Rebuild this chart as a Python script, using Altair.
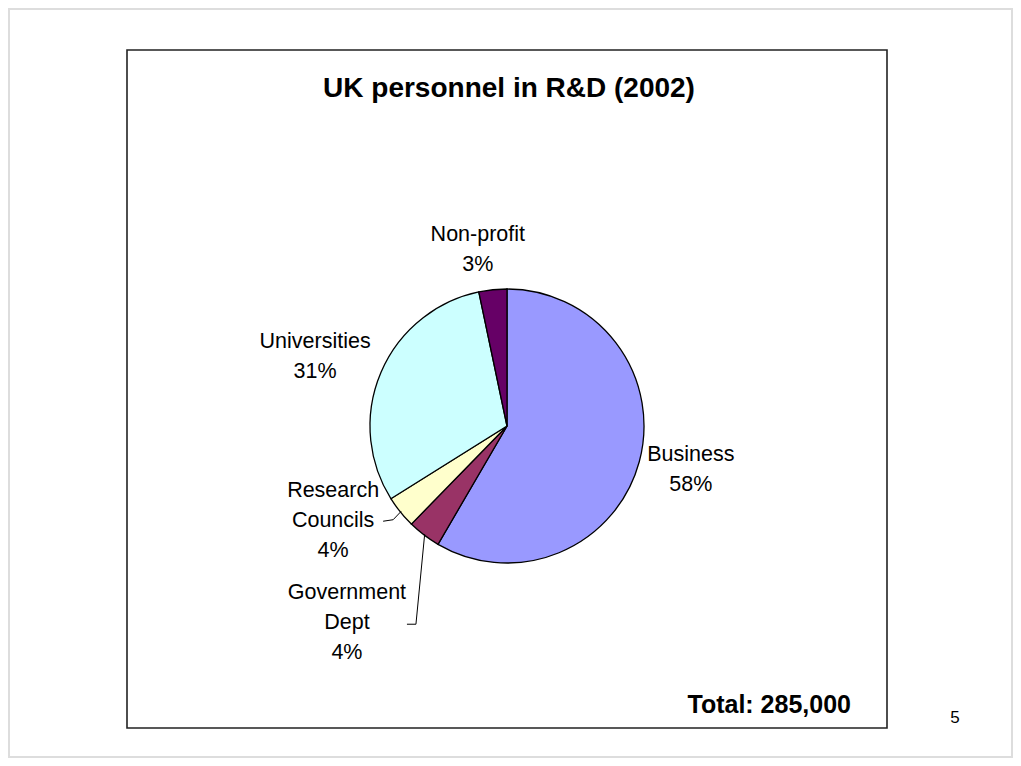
import math
import altair as alt
import pandas as pd

# ---------------- data ----------------
categories = ["Business", "Government Dept", "Research Councils", "Universities", "Non-profit"]
shares = [58.4, 3.9, 3.8, 30.6, 3.3]          # % of UK R&D personnel
label_lines = [["Business"], ["Government", "Dept"], ["Research", "Councils"],
               ["Universities"], ["Non-profit"]]
colors = ["#9999FF", "#993366", "#FFFFCC", "#CCFFFF", "#660066"]
title_text = "UK personnel in R&D (2002)"
total_text = "Total: 285,000"
page_number = "5"

# ---------------- layout ----------------
W, H = 1005, 750          # whole chart (page minus 8px margins)
OX, OY = 8, 8             # page margin
CX, CY, R = 507, 426, 137 # pie centre / radius in page pixels
FONT = "Liberation Sans"
LINE_H = 30

# label placement: (distance from pie centre, angle nudge in degrees)
label_polar = {
    "Business": (189, -1.7),
    "Government Dept": (254, 1.8),
    "Research Councils": (198, 10.3),
    "Universities": (204, -3.2),
    "Non-profit": (178, -3.5),
}
# leader line elbow points relative to the label centre
leader_offsets = {
    "Research Councils": [(50, 0.5), (60, -1)],
    "Government Dept": [(60, 1), (69, 1)],
}

total = sum(shares)
rows, label_rows, leader_rows = [], [], []
acc = 0.0
for i, (cat, s) in enumerate(zip(categories, shares)):
    a0 = acc / total * 360
    acc += s
    a1 = acc / total * 360
    mid = (a0 + a1) / 2
    rows.append({"category": cat, "share": s, "idx": i})
    d, nudge = label_polar[cat]
    ang = math.radians(mid + nudge)
    lx = CX + d * math.sin(ang)
    ly = CY - d * math.cos(ang)
    lines = label_lines[i] + [f"{round(s)}%"]
    # anchor is the first line; shift so the block is centred on (lx, ly)
    label_rows.append({"category": cat, "px": lx,
                       "py": ly - (len(lines) - 1) * LINE_H / 2,
                       "text": lines})
    if cat in leader_offsets:
        pts = [(lx + dx, ly + dy) for dx, dy in leader_offsets[cat]]
        m = math.radians(mid)
        pts.append((CX + (R - 1) * math.sin(m), CY - (R - 1) * math.cos(m)))
        for k, (px, py) in enumerate(pts):
            leader_rows.append({"category": cat, "seq": k, "px": px, "py": py})

pie_df = pd.DataFrame(rows)
label_df = pd.DataFrame(label_rows)
leader_df = pd.DataFrame(leader_rows)

xs = alt.Scale(domain=[OX, OX + W], range=[0, W])
ys = alt.Scale(domain=[OY, OY + H], range=[0, H])

outer = alt.Chart(pd.DataFrame({"a": [0]})).mark_rect(
    fillOpacity=0, stroke="#DDDDDD", strokeWidth=2
).encode(x=alt.value(1), x2=alt.value(W - 1), y=alt.value(1), y2=alt.value(H - 1))

frame = alt.Chart(pd.DataFrame({"a": [0]})).mark_rect(
    fillOpacity=0, stroke="#222222", strokeWidth=1.6
).encode(x=alt.value(127 - OX), x2=alt.value(887 - OX),
         y=alt.value(50 - OY), y2=alt.value(728 - OY))

pie = alt.Chart(pie_df).mark_arc(
    outerRadius=R, stroke="black", strokeWidth=1.3
).encode(
    theta=alt.Theta("share:Q", stack=True),
    color=alt.Color("category:N", scale=alt.Scale(domain=categories, range=colors), legend=None),
    order=alt.Order("idx:Q"),
    x=alt.value(CX - OX),
    y=alt.value(CY - OY),
)

leaders = alt.Chart(leader_df).mark_line(color="black", strokeWidth=1).encode(
    x=alt.X("px:Q", scale=xs, axis=None),
    y=alt.Y("py:Q", scale=ys, axis=None),
    detail="category:N",
    order="seq:Q",
)

labels = alt.Chart(label_df).mark_text(
    font=FONT, fontSize=21.5, lineHeight=LINE_H, align="center", baseline="middle", color="black"
).encode(
    x=alt.X("px:Q", scale=xs, axis=None),
    y=alt.Y("py:Q", scale=ys, axis=None),
    text="text",
)

title = alt.Chart(pd.DataFrame({"t": [title_text]})).mark_text(
    font=FONT, fontSize=28, fontWeight="bold", align="center", baseline="middle", color="black"
).encode(x=alt.value(509 - OX), y=alt.value(89 - OY), text="t:N")

total_mark = alt.Chart(pd.DataFrame({"t": [total_text]})).mark_text(
    font=FONT, fontSize=25, fontWeight="bold", align="right", baseline="middle", color="black"
).encode(x=alt.value(851 - OX), y=alt.value(705 - OY), text="t:N")

page = alt.Chart(pd.DataFrame({"t": [page_number]})).mark_text(
    font=FONT, fontSize=17, align="center", baseline="middle", color="black"
).encode(x=alt.value(955 - OX), y=alt.value(718 - OY), text="t:N")

chart = alt.layer(outer, frame, pie, leaders, labels, title, total_mark, page).properties(
    width=W, height=H, padding=0,
    autosize=alt.AutoSizeParams(type="none"),
).configure_view(strokeWidth=0).resolve_scale(color="independent")

chart.save("out.html", embed_options={"renderer": "svg", "actions": False})
